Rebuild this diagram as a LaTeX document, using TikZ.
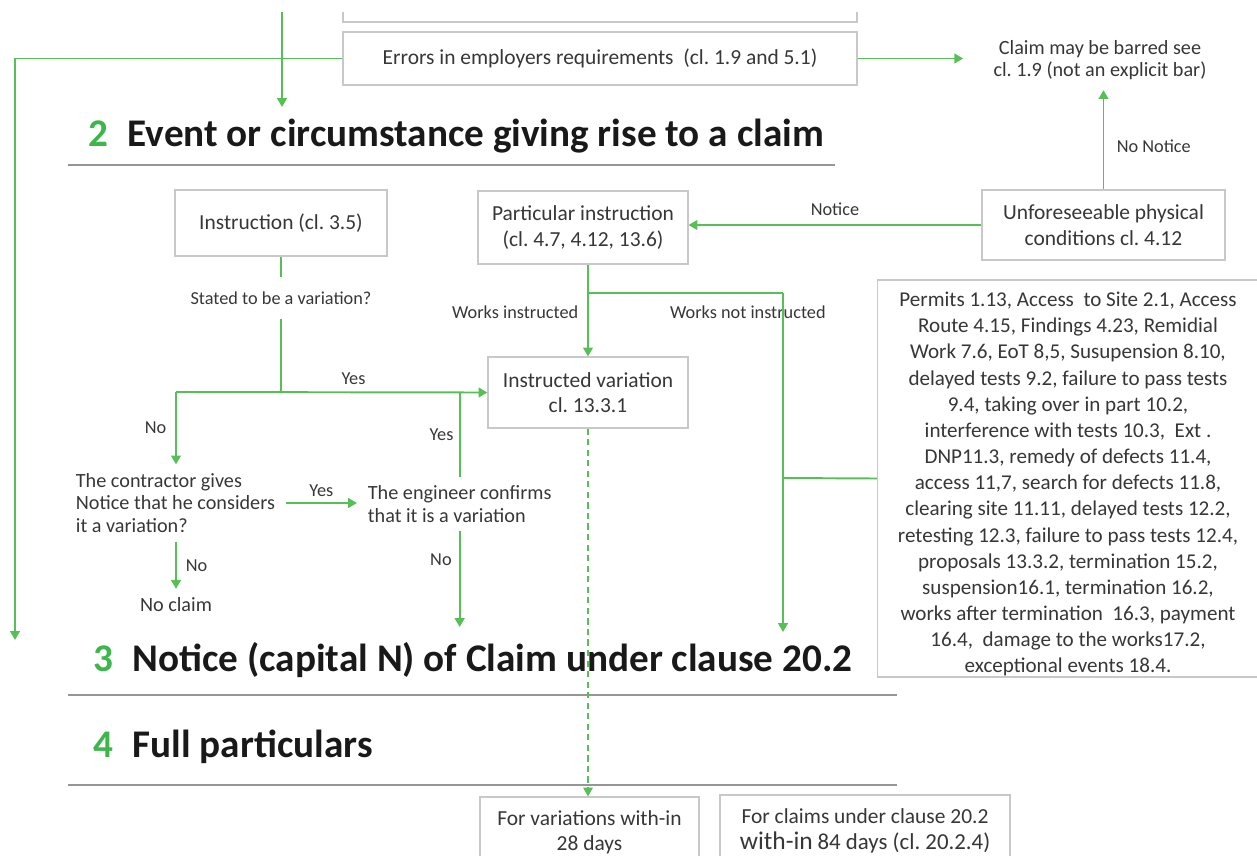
\documentclass[tikz,border=0pt]{standalone}
\usepackage{fontspec}
\setmainfont{Carlito}
\frenchspacing
\usetikzlibrary{arrows.meta}
\definecolor{flowgreen}{RGB}{86,192,86}
\definecolor{numgreen}{RGB}{62,182,76}
\definecolor{boxgray}{RGB}{200,200,200}
\definecolor{rulegray}{RGB}{150,150,150}
\definecolor{inkgray}{RGB}{55,55,55}
\tikzset{
  box/.style={draw=boxgray, line width=0.7pt, fill=white, text=inkgray, align=center,
    font=\fontsize{12.2}{14.5}\selectfont, inner sep=0pt},
  flow/.style={draw=flowgreen, line width=1.1pt, -{Triangle[width=5.5pt,length=5pt]}},
  link/.style={draw=flowgreen, line width=1.1pt},
  lbl/.style={text=inkgray, font=\fontsize{10.4}{12}\selectfont, inner sep=1pt},
  free/.style={text=inkgray, font=\fontsize{11.5}{12.75}\selectfont, align=left,
    inner xsep=6pt, inner ysep=5pt},
  heading/.style={anchor=west, inner sep=0pt, text=black!90,
    font=\fontsize{22.3}{26}\selectfont\bfseries},
  rule/.style={draw=rulegray, line width=1pt},
}
\newcommand{\stagenum}[1]{\textcolor{numgreen}{#1}\hspace{0.5em}}
\begin{document}
\begin{tikzpicture}[x=0.02cm, y=0.02cm]
\useasboundingbox (0,0) rectangle (1257,-855);
\begin{scope}
\clip (0,-13) rectangle (1257,-855);

\node[box, minimum width=10.28cm, minimum height=1cm] (prev) at (600,3) {};
\node[box, minimum width=10.28cm, minimum height=1.06cm] (errors) at (600,-58.5)
  {Errors in employers requirements\ \ (cl. 1.9 and 5.1)};
\node[free, align=center, inner xsep=0.6cm, inner ysep=0.2cm] (barred) at (1100,-60)
  {Claim may be barred see\\cl. 1.9 (not an explicit bar)};
\coordinate (top) at (282,-5);
\coordinate (evt) at (282,-107);
\coordinate (lefttop) at (15,-58.5);
\coordinate (leftend) at (15,-640);
\draw[flow] (top) -- (evt);
\draw[flow] (errors.west) -- (lefttop) -- (leftend);
\draw[flow] (errors.east) -- (errors.east -| barred.west);

\node[heading] (h2) at (88,-136) {\stagenum{2}Event or circumstance giving rise to a claim};
\draw[rule] (68,-165) -- (835,-165);

\node[box, minimum width=4.24cm, minimum height=1.32cm] (instr) at (281,-223) {Instruction (cl. 3.5)};
\node[box, minimum width=4.2cm, minimum height=1.46cm] (partic) at (583,-227.5)
  {Particular instruction\\(cl. 4.7, 4.12, 13.6)};
\node[box, minimum width=4.86cm, minimum height=1.4cm] (unfore) at (1103.5,-225)
  {Unforeseeable physical\\conditions cl. 4.12};
\draw[flow] (unfore.west) -- (unfore.west -| partic.east) node[lbl, midway, above=4pt] {Notice};
\draw[flow] (unfore.north) -- (unfore.north |- barred.south) node[lbl, pos=0.43, right=6pt] {No Notice};

\node[lbl, inner ysep=8pt] (stated) at (281,-298) {Stated to be a variation?};
\node[box, minimum width=4cm, minimum height=1.42cm] (instvar) at (588,-392.5)
  {Instructed variation\\cl. 13.3.1};
\node[free, anchor=west] (contr) at (65,-503)
  {The contractor gives\\Notice that he considers\\it a variation?};
\node[free, anchor=west] (engin) at (357,-504) {The engineer confirms\\that it is a variation};
\node[free] (noclaim) at (176,-605) {No claim};
\coordinate (split) at (281,-392);
\coordinate (noturn) at (176,-392);
\coordinate (n3a) at (458,-627);
\draw[link] (instr.south) -- (stated.north);
\draw[link] (stated.south) -- (split);
\draw[flow] (noturn) -- (instvar.west) node[lbl, pos=0.57, above=3pt] {Yes};
\draw[flow] (noturn) -- (noturn |- contr.north) node[lbl, midway, left=4pt] {No};
\draw[flow] (contr.east) -- (contr.east -| engin.west) node[lbl, midway, above=2pt] {Yes};
\draw[link] (engin.north) -- (engin.north |- noturn) node[lbl, midway, left=2pt] {Yes};
\draw[flow] (engin.south) -- (engin.south |- n3a) node[lbl, pos=0.3, left=3pt] {No};
\draw[flow] (noclaim.north |- contr.south) -- (noclaim.north) node[lbl, midway, right=4pt] {No};

\coordinate (fork) at (588,-293);
\coordinate (bend) at (783,-293);
\coordinate (n3b) at (783,-632);
\coordinate (listtap) at (783,-478);
\draw[link] (fork |- partic.south) -- (fork);
\draw[flow] (fork) -- (instvar.north) node[lbl, pos=0.3, left=4pt] {Works instructed};
\draw[link] (fork) -- (bend) node[lbl, pos=0.82, below=6pt] {Works not instructed};
\draw[flow] (bend) -- (n3b);

\node[box, minimum width=7.62cm, minimum height=7.94cm, font=\fontsize{12}{14.9}\selectfont] (list) at (1068,-478.5)
  {\rule{0pt}{14.7pt}Permits 1.13, Access\ \ to Site 2.1, Access\\
   Route 4.15, Findings 4.23, Remidial\\
   Work 7.6, EoT 8,5, Susupension 8.10,\\
   delayed tests 9.2, failure to pass tests\\
   9.4, taking over in part 10.2,\\
   interference with tests 10.3,\ \ Ext .\\
   DNP11.3, remedy of defects 11.4,\\
   access 11,7, search for defects 11.8,\\
   clearing site 11.11, delayed tests 12.2,\\
   retesting 12.3, failure to pass tests 12.4,\\
   proposals 13.3.2, termination 15.2,\\
   suspension16.1, termination 16.2,\\
   works after termination\ \ 16.3, payment\\
   16.4,\ \ damage to the works17.2,\\
   exceptional events 18.4.};
\draw[link] (listtap) -- (list.west);

\node[heading] (h3) at (93,-660) {\stagenum{3}Notice (capital N) of Claim under clause 20.2};
\draw[rule] (68,-695) -- (897,-695);
\node[heading] (h4) at (93,-747) {\stagenum{4}Full particulars};
\draw[rule] (68,-785) -- (897,-785);

\node[box, minimum width=4.38cm, minimum height=1.42cm] (var28) at (589.5,-832.5)
  {For variations with-in\\28 days};
\node[box, minimum width=5.8cm, minimum height=1.44cm] (claim84) at (865,-831)
  {For claims under clause 20.2\\{\fontsize{14.5}{16}\selectfont with-in} {\fontsize{13}{16}\selectfont 84 days (cl. 20.2.4)}};
\draw[flow, dashed, line width=0.7pt, dash pattern=on 3.5pt off 2.5pt] (instvar.south) -- (instvar.south |- var28.north);
\end{scope}
\end{tikzpicture}
\end{document}
